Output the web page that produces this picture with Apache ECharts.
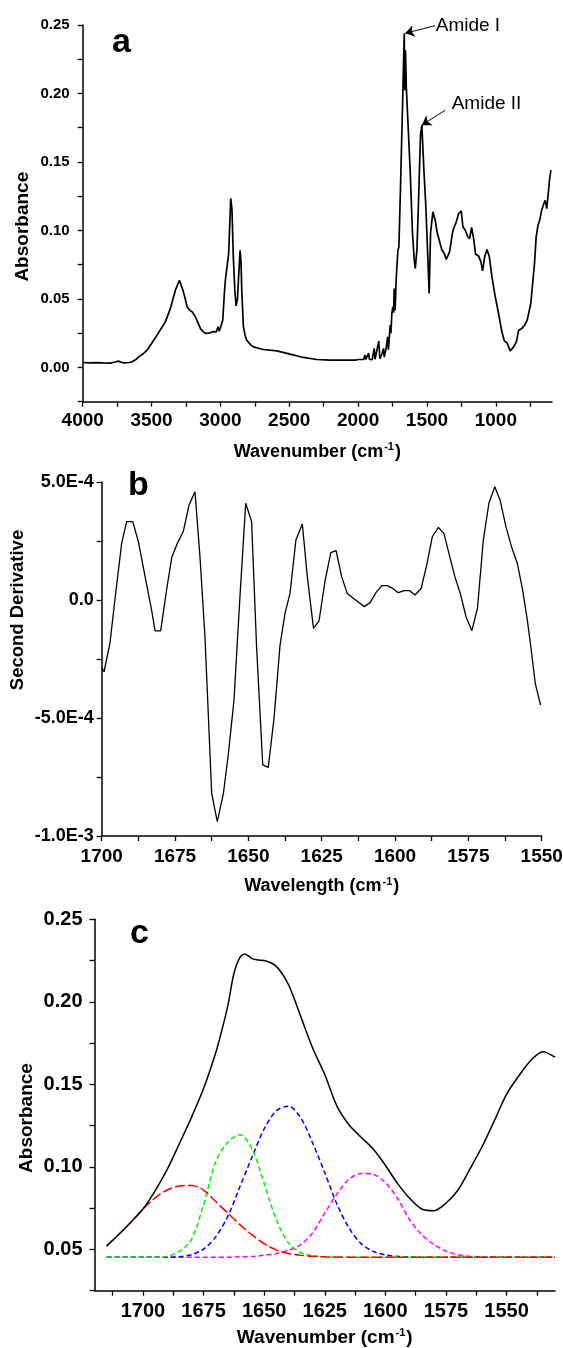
<!DOCTYPE html>
<html><head><meta charset="utf-8">
<script src="https://cdn.jsdelivr.net/npm/echarts@6/dist/echarts.min.js"></script>
<style>html,body{margin:0;padding:0;background:#fff}#c{width:563px;height:1348px}</style>
</head><body><div id="c"></div>
<script>
// ---------- Panel a: FTIR spectrum ----------
const aWave = [4000,3950,3900,3850,3800,3765,3740,3720,3700,3660,3642,3610,3593,3560,3533,3500,3460,3430,3400,3363,3327,3298,3285,3272,3255,3242,3220,3205,3182,3160,3145,3125,3109,3090,3073,3055,3044,3029,3017,3008,3000,2983,2970,2964,2952,2940,2925,2916,2906,2895,2886,2876,2869,2857,2850,2845,2833,2820,2809,2780,2760,2688,2590,2494,2397,2300,2203,2081,2021,1997,1960,1950,1944,1930,1924,1918,1905,1898,1890,1883,1877,1870,1864,1850,1842,1833,1826,1816,1810,1804,1795,1786,1780,1774,1767,1762,1755,1748,1742,1738,1734,1731,1724,1718,1711,1704,1692,1677,1665,1661,1656,1650,1622,1605,1592,1585,1573,1561,1547,1537,1530,1521,1508,1493,1484,1474,1457,1440,1427,1415,1391,1374,1360,1336,1311,1287,1270,1262,1251,1239,1222,1205,1190,1176,1161,1147,1125,1108,1096,1081,1064,1047,1028,1004,980,956,938,919,895,871,851,834,811,790,772,746,719,707,694,680,667,650,641,630,620,610,600];
const aAbs = [0.0036,0.0034,0.0035,0.0033,0.0032,0.0040,0.0046,0.0038,0.0034,0.0036,0.0041,0.0060,0.0077,0.0100,0.0126,0.0175,0.0236,0.0285,0.0333,0.0431,0.0564,0.0637,0.0625,0.0564,0.0500,0.0443,0.0415,0.0406,0.0370,0.0320,0.0284,0.0262,0.0248,0.0250,0.0253,0.0262,0.0250,0.0260,0.0297,0.0265,0.0253,0.0345,0.0560,0.0637,0.0650,0.0832,0.1234,0.1150,0.0800,0.0560,0.0450,0.0500,0.0637,0.0856,0.0760,0.0564,0.0297,0.0230,0.0199,0.0165,0.0150,0.0131,0.0121,0.0097,0.0073,0.0058,0.0054,0.0054,0.0053,0.0058,0.0058,0.0090,0.0058,0.0060,0.0105,0.0060,0.0062,0.0056,0.0065,0.0139,0.0060,0.0070,0.0058,0.0192,0.0065,0.0060,0.0100,0.0139,0.0075,0.0068,0.0150,0.0223,0.0130,0.0126,0.0309,0.0250,0.0394,0.0443,0.0400,0.0577,0.0560,0.0418,0.0637,0.0650,0.0856,0.0880,0.1318,0.1927,0.2438,0.2024,0.2316,0.2048,0.1440,0.0978,0.0780,0.0723,0.0856,0.1221,0.1696,0.1769,0.1611,0.1416,0.1172,0.0783,0.0540,0.0980,0.1136,0.1075,0.0990,0.0945,0.0856,0.0832,0.0788,0.0844,0.1002,0.1063,0.1124,0.1110,0.1143,0.1027,0.1002,0.0958,0.0940,0.1022,0.0940,0.0827,0.0813,0.0771,0.0705,0.0808,0.0861,0.0808,0.0661,0.0516,0.0394,0.0260,0.0194,0.0180,0.0121,0.0150,0.0186,0.0272,0.0285,0.0310,0.0345,0.0467,0.0759,0.0953,0.1038,0.1080,0.1148,0.1200,0.1220,0.1160,0.1260,0.1370,0.1440];
const aXLabels = [1000,1500,2000,2500,3000,3500,4000];
const aXTicks = [750,1000,1250,1500,1750,2000,2250,2500,2750,3000,3250,3500,3750,4000];
const aYLabels = [0,0.05,0.10,0.15,0.20,0.25];
const aYTicks = [-0.025,0,0.025,0.05,0.075,0.10,0.125,0.15,0.175,0.20,0.225,0.25];
const amideText = ['Amide I','Amide II'];
const amideTextPos = [[1440,0.2495],[1324,0.1926]];
const amideArrowFrom = [[1440,0.2495],[1367,0.1878]];
const amideArrowTo = [[1658,0.2440],[1537,0.1769]];

// ---------- Panel b: second derivative ----------
const bWave = [1700,1699.2,1697.2,1695.5,1693.2,1691.5,1689.4,1687.5,1685.2,1683.0,1681.8,1679.9,1677.8,1676.1,1674.2,1672.2,1670.2,1668.2,1666.5,1664.8,1662.5,1660.6,1658.5,1656.8,1654.9,1652.8,1650.9,1648.9,1647.2,1645.1,1643.2,1641.2,1639.2,1637.5,1635.8,1633.8,1631.6,1629.9,1627.8,1625.9,1623.9,1621.9,1620.1,1618.2,1616.3,1614.2,1612.3,1610.5,1608.5,1606.5,1604.5,1602.6,1600.8,1598.9,1596.9,1595.1,1593.2,1591.1,1589.2,1587.3,1585.2,1583.3,1581.5,1579.6,1577.6,1575.8,1573.8,1571.9,1569.9,1568.0,1566.0,1564.2,1562.2,1560.3,1558.3,1556.5,1554.9,1553.7,1552.2,1550.4];
const bDeriv = [-2.87e-4,-3.04e-4,-1.84e-4,0.0,2.40e-4,3.32e-4,3.32e-4,2.47e-4,0.99e-4,-0.42e-4,-1.31e-4,-1.31e-4,0.49e-4,1.81e-4,2.40e-4,2.90e-4,4.03e-4,4.59e-4,1.84e-4,-1.55e-4,-8.19e-4,-9.39e-4,-8.19e-4,-6.50e-4,-4.24e-4,0.28e-4,4.10e-4,3.32e-4,-1.98e-4,-6.99e-4,-7.09e-4,-4.94e-4,-1.91e-4,-0.56e-4,0.28e-4,2.54e-4,3.22e-4,0.99e-4,-1.20e-4,-0.88e-4,0.78e-4,2.01e-4,2.09e-4,0.99e-4,0.28e-4,0.07e-4,-0.11e-4,-0.28e-4,-0.11e-4,0.31e-4,0.61e-4,0.61e-4,0.49e-4,0.31e-4,0.40e-4,0.40e-4,0.21e-4,0.49e-4,1.48e-4,2.68e-4,3.08e-4,2.80e-4,1.91e-4,0.99e-4,0.21e-4,-0.71e-4,-1.30e-4,-0.35e-4,2.54e-4,4.10e-4,4.80e-4,4.24e-4,3.11e-4,2.26e-4,1.55e-4,0.42e-4,-0.85e-4,-1.98e-4,-3.53e-4,-4.45e-4];
const bYTickVals = [-1e-3,-5e-4,0,5e-4];
const bYTickText = ['-1.0E-3','-5.0E-4','0.0','5.0E-4'];

// ---------- Panel c: curve fitting of amide I ----------
const cWave = [1715,1710,1705,1700,1695,1690,1685,1680,1675,1670,1665,1660,1655,1650,1645,1640,1635,1630,1625,1620,1615,1610,1605,1600,1595,1590,1585,1580,1575,1570,1565,1560,1555,1550,1545,1540,1535,1530];
const cRed = [0.0522,0.0590,0.0665,0.0745,0.0812,0.0860,0.0884,0.0888,0.0860,0.0790,0.0720,0.0650,0.0588,0.0535,0.0497,0.0476,0.0465,0.0458,0.0455,0.0454,0.0453,0.0453,0.0453,0.0453,0.0453,0.0453,0.0453,0.0453,0.0453,0.0453,0.0453,0.0453,0.0453,0.0453,0.0453,0.0453,0.0453,0.0453];
const cGreen = [0.0453,0.0453,0.0453,0.0453,0.0453,0.0458,0.0488,0.0560,0.0770,0.1030,0.1150,0.1195,0.1110,0.0900,0.0680,0.0540,0.0480,0.0462,0.0455,0.0453,0.0453,0.0453,0.0453,0.0453,0.0453,0.0453,0.0453,0.0453,0.0453,0.0453,0.0453,0.0453,0.0453,0.0453,0.0453,0.0453,0.0453,0.0453];
const cBlue = [0.0453,0.0453,0.0453,0.0453,0.0453,0.0453,0.0456,0.0468,0.0502,0.0576,0.0700,0.0880,0.1060,0.1230,0.1340,0.1368,0.1300,0.1145,0.0965,0.0775,0.0630,0.0535,0.0488,0.0467,0.0458,0.0454,0.0453,0.0453,0.0453,0.0453,0.0453,0.0453,0.0453,0.0453,0.0453,0.0453,0.0453,0.0453];
const cMagenta = [0.0453,0.0453,0.0453,0.0453,0.0453,0.0453,0.0453,0.0453,0.0453,0.0453,0.0453,0.0455,0.0457,0.0465,0.0475,0.0494,0.0528,0.0600,0.0720,0.0835,0.0925,0.0960,0.0955,0.0905,0.0810,0.0680,0.0590,0.0530,0.0490,0.0468,0.0458,0.0455,0.0453,0.0453,0.0453,0.0453,0.0453,0.0453];
const cBlackWave = [1715,1710,1705,1700,1695,1690,1685,1680,1675,1670,1667.5,1665,1662.5,1660,1658,1655,1652.5,1650,1645,1640,1635,1630,1625,1620,1615,1610,1605,1600,1595,1590,1585,1580,1575,1570,1565,1560,1555,1550,1545,1540,1535,1530];
const cBlack = [0.0520,0.0590,0.0665,0.0745,0.0855,0.0985,0.1140,0.1300,0.1475,0.1690,0.1825,0.1975,0.2170,0.2270,0.2290,0.2262,0.2253,0.2250,0.2215,0.2105,0.1915,0.1720,0.1560,0.1370,0.1255,0.1180,0.1108,0.1010,0.0900,0.0810,0.0745,0.0735,0.0780,0.0860,0.0990,0.1125,0.1280,0.1440,0.1550,0.1645,0.1698,0.1665];
const cXLabels = [1550,1575,1600,1625,1650,1675,1700];
const cXTicks = [1537.5,1550,1562.5,1575,1587.5,1600,1612.5,1625,1637.5,1650,1662.5,1675,1687.5,1700,1712.5];
const cYLabels = [0.05,0.10,0.15,0.20,0.25];
const cYTicks = [0.025,0.05,0.075,0.10,0.125,0.15,0.175,0.20,0.225,0.25];

// ---------- chart ----------
const FF = '"Liberation Sans", Arial, sans-serif';
const pair = (xs, ys) => xs.map((x, i) => [x, ys[i]]);
const axLine = {show: true, onZero: false, lineStyle: {color: '#000', width: 1.5}};
function tick(vals, len) { return {show: true, inside: false, length: len, customValues: vals, lineStyle: {color: '#000', width: 1.3}}; }
function lab(vals, size, margin, fmt) {
  return {show: true, customValues: vals, fontSize: size, fontWeight: 'bold', fontFamily: FF, color: '#000', margin: margin, formatter: fmt};
}
function xName(word, size, gap) {
  return {
    name: '{t|' + word + ' (cm}{s|-1}{t|)}', nameLocation: 'middle', nameGap: gap,
    nameTextStyle: {rich: {
      t: {fontSize: size, fontWeight: 'bold', fontFamily: FF, color: '#000', lineHeight: size + 2},
      s: {fontSize: Math.round(size * 0.6), fontWeight: 'bold', fontFamily: FF, color: '#000', verticalAlign: 'top', lineHeight: size + 2, padding: [0, 1, 0, 1]}
    }}
  };
}
function yTitle(text, size, x, y) {
  return {type: 'text', x: x, y: y, rotation: Math.PI / 2, silent: true,
    style: {text: text, font: 'bold ' + size + 'px ' + FF, fill: '#000', textAlign: 'center', textVerticalAlign: 'middle', verticalAlign: 'middle'}};
}
const noSplit = {show: false};
const letterStyle = {fontSize: 34, fontWeight: 'bold', fontFamily: FF, color: '#000'};

const chart = echarts.init(document.getElementById('c'), null, {renderer: 'canvas'});
const option = {
  backgroundColor: '#fff',
  animation: false,
  title: [
    {text: 'a', left: 112, top: 26, padding: 0, textStyle: letterStyle},
    {text: 'b', left: 128, top: 469, padding: 0, textStyle: letterStyle},
    {text: 'c', left: 130, top: 917, padding: 0, textStyle: letterStyle}
  ],
  graphic: [
    yTitle('Absorbance', 19, 22.5, 226.7),
    yTitle('Second Derivative', 18.5, 18, 610),
    yTitle('Absorbance', 19, 27, 1118)
  ],
  grid: [
    {left: 82.7, right: 11, top: 25, height: 376.7, containLabel: false, outerBoundsMode: 'none'},
    {left: 101.7, right: 21.3, top: 482, height: 354, containLabel: false, outerBoundsMode: 'none'},
    {left: 94.5, right: 8, top: 919.3, height: 371.4, containLabel: false, outerBoundsMode: 'none'}
  ],
  xAxis: [
    Object.assign({type: 'value', gridIndex: 0, inverse: true, min: 592, max: 4000,
      axisLine: axLine, axisTick: tick(aXTicks, 5), axisLabel: lab(aXLabels, 19, 10, v => String(v)), splitLine: noSplit},
      xName('Wavenumber', 18, 40)),
    Object.assign({type: 'value', gridIndex: 1, inverse: true, min: 1550, max: 1700, interval: 25,
      axisLine: axLine, axisTick: {show: true, inside: false, length: 5, lineStyle: {color: '#000', width: 1.3}},
      minorTick: {show: true, splitNumber: 2, length: 5, lineStyle: {color: '#000', width: 1.3}},
      axisLabel: {show: true, fontSize: 19, fontWeight: 'bold', fontFamily: FF, color: '#000', margin: 11, formatter: v => String(v)},
      splitLine: noSplit, minorSplitLine: noSplit},
      xName('Wavelength', 18, 40)),
    Object.assign({type: 'value', gridIndex: 2, inverse: true, min: 1530, max: 1720,
      axisLine: axLine, axisTick: tick(cXTicks, 5), axisLabel: lab(cXLabels, 20, 11, v => String(v)), splitLine: noSplit},
      xName('Wavenumber', 19, 37))
  ],
  yAxis: [
    {type: 'value', gridIndex: 0, min: -0.025, max: 0.25,
      axisLine: axLine, axisTick: tick(aYTicks, 5), axisLabel: lab(aYLabels, 15, 13, v => v.toFixed(2)), splitLine: noSplit},
    {type: 'value', gridIndex: 1, min: -1e-3, max: 5e-4, interval: 2.5e-4,
      axisLine: axLine, axisTick: {show: true, inside: false, length: 5, lineStyle: {color: '#000', width: 1.3}},
      axisLabel: {show: true, fontSize: 18, fontWeight: 'bold', fontFamily: FF, color: '#000', margin: 8,
        formatter: v => { for (let i = 0; i < bYTickVals.length; i++) { if (Math.abs(v - bYTickVals[i]) < 1e-9) return bYTickText[i]; } return ''; }},
      splitLine: noSplit},
    {type: 'value', gridIndex: 2, min: 0.025, max: 0.25,
      axisLine: axLine, axisTick: tick(cYTicks, 5), axisLabel: lab(cYLabels, 20, 12, v => v.toFixed(2)), splitLine: noSplit}
  ],
  series: [
    {type: 'line', xAxisIndex: 0, yAxisIndex: 0, data: pair(aWave, aAbs), showSymbol: false, symbol: 'none',
      lineStyle: {color: '#000', width: 1.7},
      markLine: {silent: true, symbol: ['none', 'arrow'], symbolSize: 9, animation: false,
        lineStyle: {color: '#000', width: 1, type: 'solid'}, label: {show: false},
        data: amideArrowFrom.map((p, i) => [{coord: p}, {coord: amideArrowTo[i]}])},
      markPoint: {silent: true, animation: false, symbol: 'circle', symbolSize: 1, itemStyle: {color: 'rgba(0,0,0,0)'},
        data: amideTextPos.map((p, i) => ({coord: p, label: {show: true, formatter: amideText[i], position: 'right', distance: 0,
          fontSize: 19, fontFamily: FF, color: '#000'}}))}},
    {type: 'line', xAxisIndex: 1, yAxisIndex: 1, data: pair(bWave, bDeriv), showSymbol: false, symbol: 'none',
      lineStyle: {color: '#000', width: 1.3}},
    {type: 'line', xAxisIndex: 2, yAxisIndex: 2, data: pair(cWave, cMagenta), showSymbol: false, symbol: 'none', smooth: 0.3,
      lineStyle: {color: '#ff00ff', width: 1.5, type: [5, 3]}},
    {type: 'line', xAxisIndex: 2, yAxisIndex: 2, data: pair(cWave, cBlue), showSymbol: false, symbol: 'none', smooth: 0.3,
      lineStyle: {color: '#0000ff', width: 1.5, type: [5, 3]}},
    {type: 'line', xAxisIndex: 2, yAxisIndex: 2, data: pair(cWave, cGreen), showSymbol: false, symbol: 'none', smooth: 0.3,
      lineStyle: {color: '#00ee00', width: 1.5, type: [5, 3]}},
    {type: 'line', xAxisIndex: 2, yAxisIndex: 2, data: pair(cWave, cRed), showSymbol: false, symbol: 'none', smooth: 0.3,
      lineStyle: {color: '#ff0000', width: 1.5, type: [10, 3]}},
    {type: 'line', xAxisIndex: 2, yAxisIndex: 2, data: pair(cBlackWave, cBlack), showSymbol: false, symbol: 'none', smooth: 0.3,
      lineStyle: {color: '#000', width: 1.5}}
  ]
};
chart.setOption(option);
</script>
</body></html>
